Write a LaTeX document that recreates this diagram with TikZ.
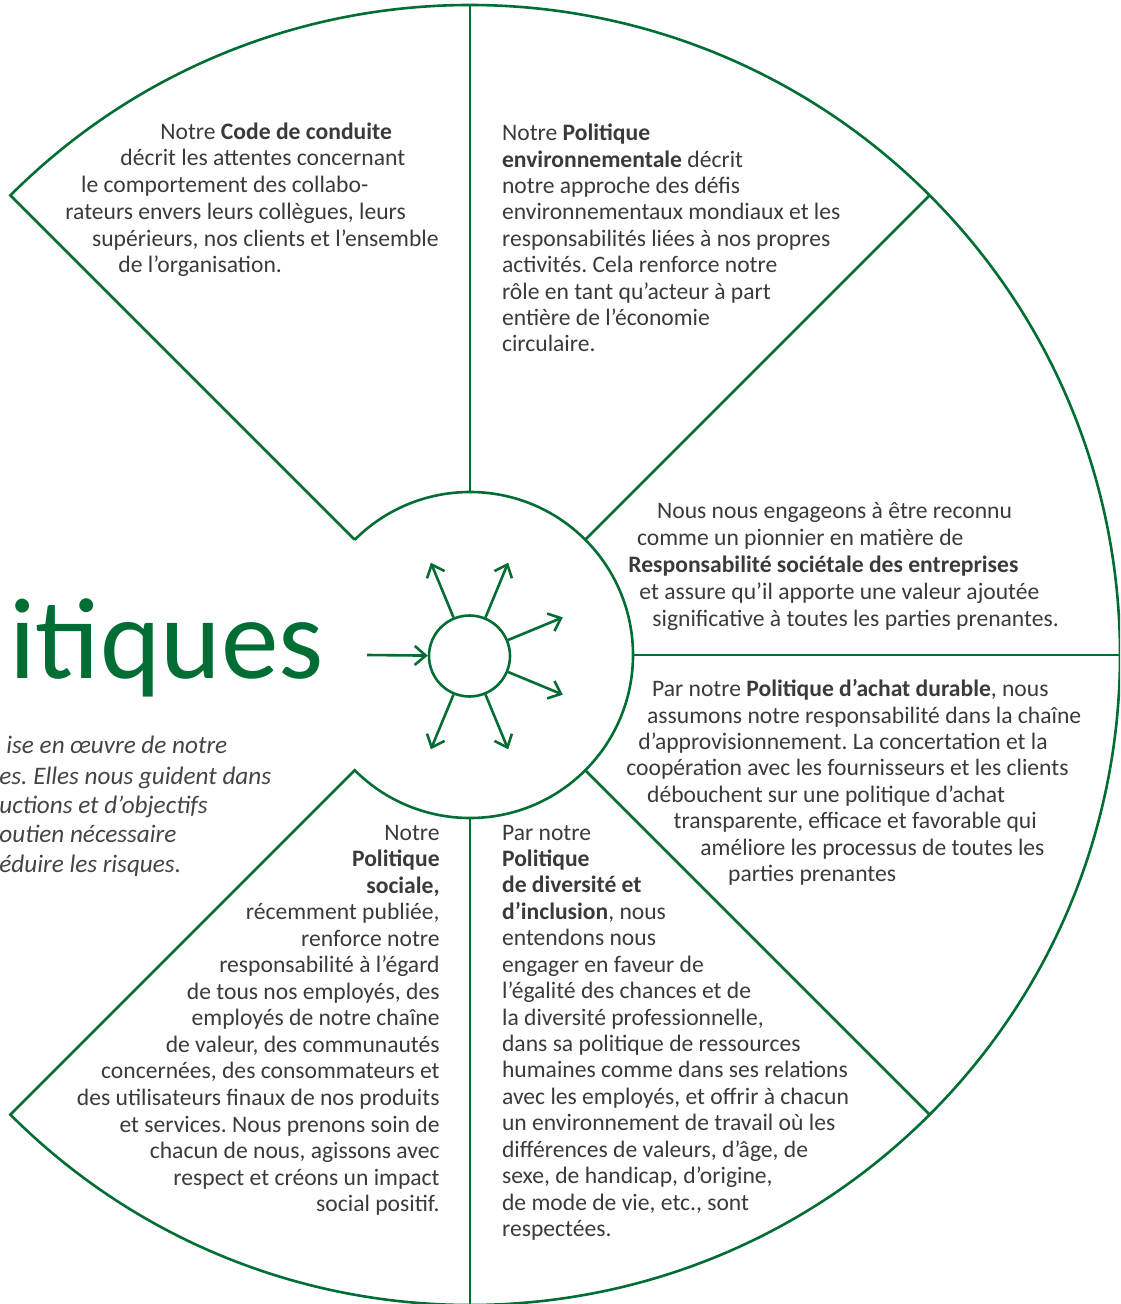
\documentclass[tikz,border=0pt]{standalone}
\usepackage{fontspec}
\setmainfont{Carlito}
\usetikzlibrary{arrows.meta}
\definecolor{ringgreen}{RGB}{0,110,52}
\definecolor{bodygray}{RGB}{58,58,58}
\definecolor{introgray}{RGB}{68,68,68}
\frenchspacing

\begin{document}
\begin{tikzpicture}[x=0.5pt,y=-0.5pt,
    ring/.style={draw=ringgreen,line width=1.3pt},
    arr/.style={ring,-{Straight Barb[length=5.5pt,width=9.5pt]}},
    txt/.style={inner sep=0pt,text=bodygray,font=\fontsize{11.8}{13}\selectfont},
    intro/.style={inner sep=0pt,text=introgray,font=\fontsize{12.6}{15}\selectfont\itshape,anchor=base west},
    titre/.style={inner sep=0pt,text=ringgreen,font=\fontsize{57.7}{68}\selectfont,anchor=base west}]

        \clip (0,0) rectangle (1120,1304);
        \coordinate (c) at (470,655);

        % ring
        \draw[ring,line join=miter] (c) ++(-135:163) -- ++(-135:487)
          arc[start angle=-135,end angle=135,radius=650]
          -- ++(135:-487)
          arc[start angle=135,end angle=-135,radius=163];
        \foreach \a in {-90,-45,0,45,90}
          \draw[ring] (c) ++(\a:163) -- ++(\a:487);

        % hub and arrows
        \node[ring,circle,inner sep=0pt,minimum size=40.5pt] (hub) at (469.5,656) {};
        \coordinate (src) at (367,655);
        \draw[arr] (src) -- (hub);
        \foreach \a [count=\i] in {-112.5,-67.5,-22.5,22.5,67.5,112.5} {
          \path (hub.center) ++(\a:101) coordinate (tip\i);
          \draw[arr] (hub) -- (tip\i);
        }

        % title and intro
        \node[titre] (titel) at (9,678) {itiques};
        \begin{scope}[every node/.style={intro}]
          \node (intro1) at (6,753)  {ise en œuvre de notre};
          \node (intro2) at (-1,784) {es. Elles nous guident dans};
          \node (intro3) at (-1,813) {uctions et d’objectifs};
          \node (intro4) at (-1,842) {outien nécessaire};
          \node (intro5) at (-1,872) {éduire les risques.};
        \end{scope}

        % Code de conduite
        \foreach \x/\t [count=\i] in {160/{Notre \textbf{Code de conduite}},
            120/{décrit les attentes concernant},
            80.7/{le comportement des collabo-},
            65/{rateurs envers leurs collègues, leurs},
            91.7/{supérieurs, nos clients et l’ensemble},
            118/{de l’organisation.}}
          \node[txt,anchor=base west] (code\i) at ({\x},{139.3+26.7*(\i-1)}) {\t};

        % Politique environnementale
        \foreach \t [count=\i] in {{Notre \textbf{Politique}},
            {\textbf{environnementale} décrit},
            {notre approche des défis},
            {environnementaux mondiaux et les},
            {responsabilités liées à nos propres},
            {activités. Cela renforce notre},
            {rôle en tant qu’acteur à part},
            {entière de l’économie},
            {circulaire.}}
          \node[txt,anchor=base west] (env\i) at ({501.7},{140.7+26.4*(\i-1)}) {\t};

        % RSE
        \foreach \x/\t [count=\i] in {656.7/{Nous nous engageons à être reconnu},
            636.7/{comme un pionnier en matière de},
            628/{\textbf{Responsabilité sociétale des entreprises}},
            639/{et assure qu’il apporte une valeur ajoutée},
            652/{significative à toutes les parties prenantes.}}
          \node[txt,anchor=base west] (rse\i) at ({\x},{518.3+27*(\i-1)}) {\t};

        % Politique d'achat durable
        \foreach \x/\t [count=\i] in {651.7/{Par notre \textbf{Politique d’achat durable}, nous},
            646.7/{assumons notre responsabilité dans la chaîne},
            638/{d’approvisionnement. La concertation et la},
            626/{coopération avec les fournisseurs et les clients},
            646.7/{débouchent sur une politique d’achat},
            673.3/{transparente, efficace et favorable qui},
            700/{améliore les processus de toutes les},
            727.7/{parties prenantes}}
          \node[txt,anchor=base west] (achat\i) at ({\x},{696.7+26.4*(\i-1)}) {\t};

        % Politique de diversite et d'inclusion
        \foreach \t [count=\i] in {{Par notre},
            {\textbf{Politique}},
            {\textbf{de diversité et}},
            {\textbf{d’inclusion}, nous},
            {entendons nous},
            {engager en faveur de},
            {l’égalité des chances et de},
            {la diversité professionnelle,},
            {dans sa politique de ressources},
            {humaines comme dans ses relations},
            {avec les employés, et offrir à chacun},
            {un environnement de travail où les},
            {différences de valeurs, d’âge, de},
            {sexe, de handicap, d’origine,},
            {de mode de vie, etc., sont},
            {respectées.}}
          \node[txt,anchor=base west] (div\i) at ({501.7},{840+26.44*(\i-1)}) {\t};

        % Politique sociale
        \foreach \t [count=\i] in {{Notre},
            {\textbf{Politique}},
            {\textbf{sociale,}},
            {récemment publiée,},
            {renforce notre},
            {responsabilité à l’égard},
            {de tous nos employés, des},
            {employés de notre chaîne},
            {de valeur, des communautés},
            {concernées, des consommateurs et},
            {des utilisateurs finaux de nos produits},
            {et services. Nous prenons soin de},
            {chacun de nous, agissons avec},
            {respect et créons un impact},
            {social positif.}}
          \node[txt,anchor=base east] (soc\i) at ({440},{840+26.55*(\i-1)}) {\t};

      \end{tikzpicture}
\end{document}
